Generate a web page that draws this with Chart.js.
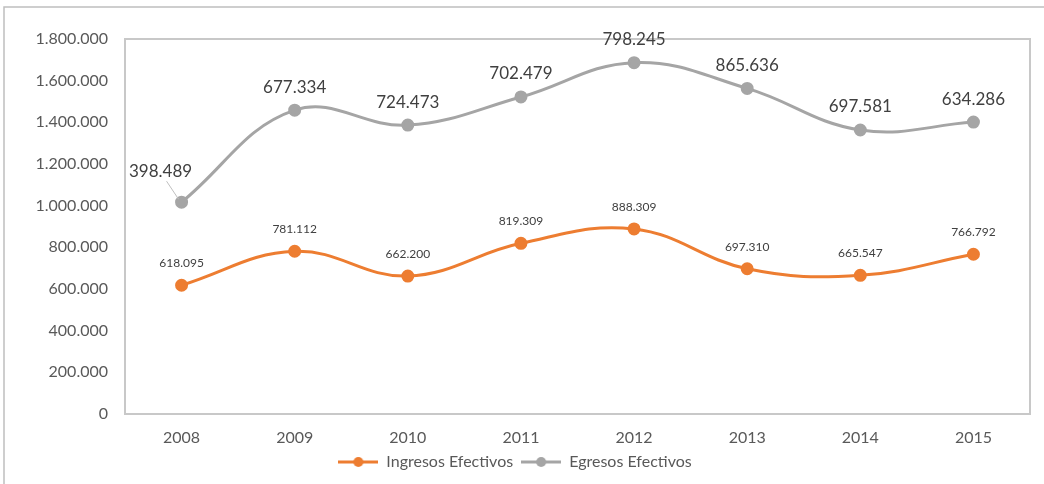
<!DOCTYPE html>
<html>
<head>
<meta charset="utf-8">
<script src="https://cdn.jsdelivr.net/npm/chart.js@4.4.1/dist/chart.umd.min.js"></script>
<style>
  html, body { margin: 0; padding: 0; background: #fff; }
  #wrap { position: relative; width: 1044px; height: 484px; }
</style>
</head>
<body>
<div id="wrap"><canvas id="my-chart"></canvas></div>
<script>
const years = ["2008", "2009", "2010", "2011", "2012", "2013", "2014", "2015"];
const ingresos = [618095, 781112, 662200, 819309, 888309, 697310, 665547, 766792];
const egresos = [398489, 677334, 724473, 702479, 798245, 865636, 697581, 634286];
const yTicks = [0, 200000, 400000, 600000, 800000, 1000000, 1200000, 1400000, 1600000, 1800000];

const orange = "#ED7D31";
const gray = "#A5A5A5";

function fmt(n) {
  return String(n).replace(/\B(?=(\d{3})+(?!\d))/g, ".");
}

// legend marker: line with a dot in the middle
function marker(color) {
  const c = document.createElement("canvas");
  c.width = 40;
  c.height = 12;
  const ctx = c.getContext("2d");
  ctx.strokeStyle = color;
  ctx.lineWidth = 3;
  ctx.beginPath();
  ctx.moveTo(0, 6);
  ctx.lineTo(40, 6);
  ctx.stroke();
  ctx.fillStyle = color;
  ctx.beginPath();
  ctx.arc(20, 6, 5, 0, Math.PI * 2);
  ctx.fill();
  return c;
}

const frame = {
  id: "frame",
  beforeDraw(chart) {
    const ctx = chart.ctx;
    const a = chart.chartArea;
    ctx.save();
    ctx.strokeStyle = "#BFBFBF";
    ctx.lineWidth = 1.5;
    ctx.beginPath();
    ctx.moveTo(4, 484);
    ctx.lineTo(4, 7);
    ctx.lineTo(1044, 7);
    ctx.stroke();
    ctx.strokeStyle = "#C8C8C8";
    ctx.lineWidth = 2;
    ctx.strokeRect(a.left, a.top, a.right - a.left, a.bottom - a.top);
    ctx.restore();
  },
};

const labels = {
  id: "labels",
  afterDatasetsDraw(chart) {
    const ctx = chart.ctx;
    ctx.save();
    ctx.textAlign = "center";
    ctx.textBaseline = "middle";
    ctx.fillStyle = "#404040";
    chart.data.datasets.forEach((ds, i) => {
      const meta = chart.getDatasetMeta(i);
      meta.data.forEach((pt, j) => {
        const text = fmt(ds.data[j]);
        if (i === 0) {
          ctx.font = "12px Lato";
          ctx.fillText(text, pt.x, pt.y - 22);
        } else if (j === 0) {
          ctx.font = "17px Lato";
          ctx.fillText(text, pt.x - 21, pt.y - 31);
          ctx.strokeStyle = "#BFBFBF";
          ctx.lineWidth = 1;
          ctx.beginPath();
          ctx.moveTo(pt.x - 15, pt.y - 21);
          ctx.lineTo(pt.x - 3, pt.y - 3);
          ctx.stroke();
        } else {
          ctx.font = "17px Lato";
          ctx.fillText(text, pt.x, pt.y - 23);
        }
      });
    });
    ctx.restore();
  },
};

new Chart(document.getElementById("my-chart"), {
  type: "line",
  data: {
    labels: years,
    datasets: [
      {
        label: "Ingresos Efectivos",
        data: ingresos,
        borderColor: orange,
        backgroundColor: orange,
        borderWidth: 3,
        pointRadius: 5,
        pointStyle: "circle",
        tension: 0.4,
        fill: false,
      },
      {
        label: "Egresos Efectivos",
        data: egresos,
        borderColor: gray,
        backgroundColor: gray,
        borderWidth: 3,
        pointRadius: 5,
        pointStyle: "circle",
        tension: 0.4,
        fill: false,
      },
    ],
  },
  options: {
    responsive: true,
    maintainAspectRatio: false,
    animation: false,
    layout: {
      padding: { left: 0, right: 14, top: 39, bottom: 4 },
    },
    plugins: {
      tooltip: { enabled: false },
      legend: {
        position: "bottom",
        labels: {
          color: "#595959",
          font: { family: "Lato", size: 16 },
          usePointStyle: true,
          pointStyleWidth: 40,
          padding: 8,
          generateLabels(chart) {
            return chart.data.datasets.map((ds, i) => ({
              text: ds.label,
              pointStyle: marker(ds.borderColor),
              fillStyle: ds.borderColor,
              strokeStyle: ds.borderColor,
              lineWidth: 0,
              fontColor: "#595959",
              datasetIndex: i,
            }));
          },
        },
      },
    },
    scales: {
      x: {
        offset: true,
        grid: { display: false, drawTicks: false },
        border: { display: false },
        afterFit(scale) {
          scale.height = 32;
        },
        ticks: {
          color: "#595959",
          font: { family: "Lato", size: 16 },
          padding: 14,
        },
      },
      y: {
        stacked: true,
        min: 0,
        max: 1800000,
        grid: { display: false, drawTicks: false },
        border: { display: false },
        afterFit(scale) {
          scale.width = 125;
        },
        afterBuildTicks(scale) {
          scale.ticks = yTicks.map((v) => ({ value: v }));
        },
        ticks: {
          color: "#595959",
          font: { family: "Lato", size: 16 },
          padding: 17,
          callback: (v) => fmt(v),
        },
      },
    },
  },
  plugins: [frame, labels],
});
</script>
</body>
</html>
